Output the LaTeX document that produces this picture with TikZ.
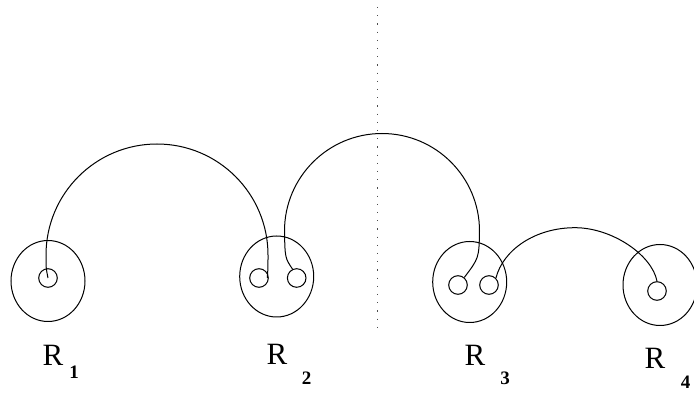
\documentclass[tikz,border=0pt]{standalone}
\usepackage{fontspec}
\setmainfont{Liberation Serif}
\usetikzlibrary{shapes.geometric}

\newcommand{\rlabel}[3]{R\hspace{#1pt}\raisebox{-#2pt}{\fontsize{19}{22}\selectfont\bfseries #3}}

\begin{document}
\begin{tikzpicture}[x=1pt,y=-1pt,
  wire/.style={line width=1pt},
  region/.style={ellipse,draw,line width=1pt,minimum width=74pt,minimum height=81pt,inner sep=0pt},
  port/.style={circle,draw,line width=1pt,minimum size=18.6pt,inner sep=0pt},
  regionlabel/.style={anchor=base west,inner sep=0pt,font=\fontsize{31}{36}\selectfont},
  cutline/.style={line width=1.2pt,gray!60!black,dash pattern=on 1.2pt off 7pt}]
\useasboundingbox (0,0) rectangle (694,395);
\node[region] (r1) at (48,281) {};
\node[port] (r1in) at (48,278) {};
\node[region] (r2) at (276.7,276.5) {};
\node[port] (r2a) at (259,278) {};
\node[port] (r2b) at (296.7,278) {};
\node[region] (r3) at (469.7,282) {};
\node[port] (r3a) at (458,285) {};
\node[port] (r3b) at (489,285) {};
\node[region] (r4) at (660,285) {};
\node[port] (r4in) at (657,291) {};
\node[regionlabel] (l1) at (42.5,366) {\rlabel{6}{13}{1}};
\node[regionlabel] (l2) at (266.5,365) {\rlabel{14.5}{20}{2}};
\node[regionlabel] (l3) at (464.5,366) {\rlabel{15}{19}{3}};
\node[regionlabel] (l4) at (644.5,368.3) {\rlabel{15.5}{20}{4}};
\coordinate (cuttop) at (377.7,7);
\coordinate (cutbot) at (377.7,332);
\draw[cutline] (cuttop) -- (cutbot);
\draw[wire] (r1in.center) .. controls (46,268) .. (46,255) arc[start angle=180,end angle=0,radius=111pt] .. controls (268,268) .. ([xshift=-1.5pt]r2a.east);
\draw[wire] (r2b.115) .. controls (285,258) .. (284.5,231) arc[start angle=180,end angle=0,radius=97.5pt] .. controls (479,258) .. (r3a.50);
\draw[wire] (r3b.45) .. controls (503,250) and (535,227.7) .. (575,227.7) .. controls (612,227.7) and (652,255) .. (r4in.north);
\end{tikzpicture}
\end{document}
